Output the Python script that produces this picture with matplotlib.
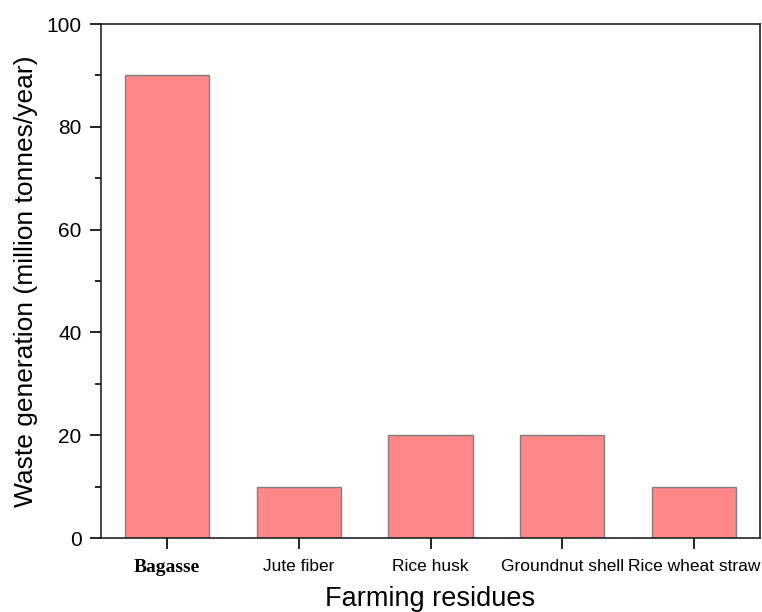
import matplotlib
matplotlib.use("Agg")
import matplotlib.pyplot as plt
from matplotlib.ticker import MultipleLocator

plt.rcParams['font.family'] = ['Liberation Sans', 'DejaVu Sans']

residues = ['Bagasse', 'Jute fiber', 'Rice husk', 'Groundnut shell', 'Rice wheat straw']
waste = [90, 10, 20, 20, 10]

fig = plt.figure(figsize=(7.62, 6.12), dpi=100)
ax = fig.add_axes([101 / 762, 1 - 538 / 612, 659 / 762, 514 / 612])

pos = list(range(1, len(residues) + 1))
ax.bar(pos, waste, width=0.64, color='#fe8888', edgecolor='#7f7f7f', linewidth=1.0, zorder=2)

ax.set_xlim(0.5, 5.5)
ax.set_ylim(0, 100)
ax.set_xticks(pos)
ax.set_xticklabels(residues, fontsize=12.5)
# first label is in a bold serif face in the original
lab0 = ax.get_xticklabels()[0]
lab0.set_fontfamily('Liberation Serif')
lab0.set_fontweight('bold')
lab0.set_fontsize(14)
ax.yaxis.set_major_locator(MultipleLocator(20))
ax.yaxis.set_minor_locator(MultipleLocator(10))
ax.tick_params(axis='y', labelsize=15, length=8, width=1.2, direction='out', pad=6)
ax.tick_params(axis='y', which='minor', length=4, width=1.2)
ax.tick_params(axis='x', length=8, width=1.2, pad=7)

for s in ax.spines.values():
    s.set_linewidth(1.2)
    s.set_color('#222222')

ax.set_xlabel('Farming residues', fontsize=19.5, labelpad=7)
ax.set_ylabel('Waste generation (million tonnes/year)', fontsize=19, labelpad=6)

fig.savefig('out.png', dpi=100)
